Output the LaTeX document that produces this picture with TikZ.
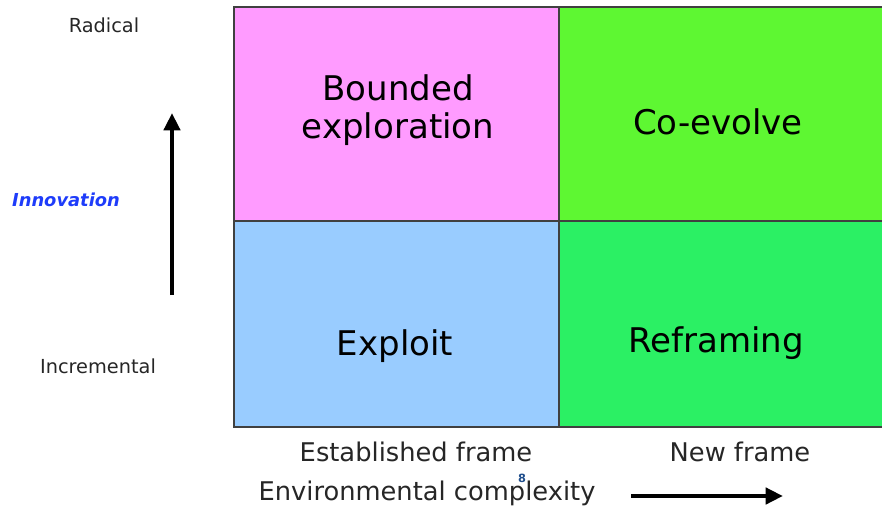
\documentclass[tikz,border=0pt]{standalone}
\usepackage{fontspec}
\setmainfont{DejaVu Sans}
\usetikzlibrary{arrows.meta,positioning}

\definecolor{boundpink}{RGB}{255,155,255}
\definecolor{coevgreen}{RGB}{94,247,50}
\definecolor{exploitblue}{RGB}{153,204,255}
\definecolor{reframegreen}{RGB}{43,240,100}
\definecolor{innoblue}{RGB}{30,60,250}
\definecolor{pageblue}{RGB}{31,78,140}

\begin{document}
\begin{tikzpicture}[x=0.75pt,y=-0.75pt,
  cell/.style={draw=black!75,line width=1.1pt},
  big/.style={font=\fontsize{25.5}{28}\selectfont,align=center},
  axis/.style={font=\fontsize{19.3}{22}\selectfont,text=black!85},
  level/.style={font=\fontsize{14.5}{17}\selectfont,text=black!85},
  thickarrow/.style={line width=3.6pt,-{Triangle[length=13pt,width=12pt]}}]

\useasboundingbox (0,0) rectangle (882,508);

% the four quadrants
\begin{scope}
\clip (0,0) rectangle (882,508);
\filldraw[cell,fill=boundpink] (234,7) rectangle (559,221);
\filldraw[cell,fill=coevgreen] (559,7) rectangle (890,221);
\filldraw[cell,fill=exploitblue] (234,221) rectangle (559,427);
\filldraw[cell,fill=reframegreen] (559,221) rectangle (890,427);
\end{scope}

\node[big] (bounded) at (398,110) {Bounded\\exploration};
\node[big] (coevolve) at (718,122) {Co-evolve};
\node[big] (exploit) at (395,346) {Exploit};
\node[big] (reframing) at (716,343) {Reframing};

% vertical axis
\node[level] (radical) at (104,25) {Radical};
\node[level] (incremental) at (98,366) {Incremental};
\node[font=\fontsize{13.4}{16}\bfseries\itshape\selectfont,text=innoblue] (innovation) at (66,200) {Innovation};
\coordinate (innotail) at (172,295);
\coordinate (innohead) at (172,113);
\draw[thickarrow] (innotail) -- (innohead);

% horizontal axis
\node[axis] (established) at (416,452) {Established frame};
\node[axis] (newframe) at (740,452) {New frame};
\node[axis] (complexity) at (427,493) {Environmental complexity};
\node[font=\fontsize{8.5}{9}\bfseries\selectfont,text=pageblue,inner sep=0pt] (pagenum) at (522,478) {8};
\coordinate (cpxtail) at (631,496);
\coordinate (cpxhead) at (783,496);
\draw[thickarrow] (cpxtail) -- (cpxhead);

\end{tikzpicture}
\end{document}
